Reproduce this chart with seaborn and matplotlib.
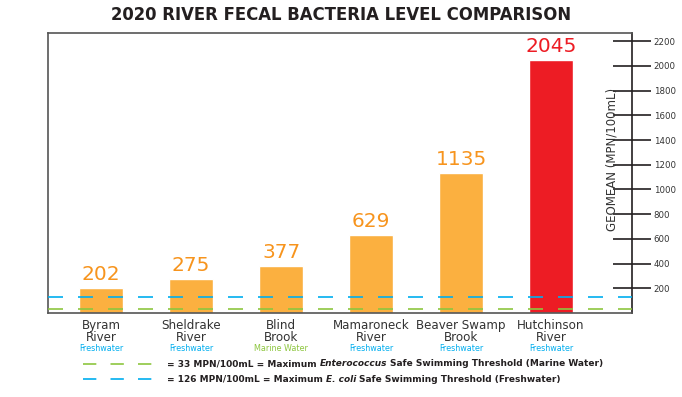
import matplotlib
matplotlib.use("Agg")
import matplotlib.pyplot as plt
import seaborn as sns
from matplotlib.lines import Line2D

# Data
rivers = ["Byram\nRiver", "Sheldrake\nRiver", "Blind\nBrook", "Mamaroneck\nRiver",
          "Beaver Swamp\nBrook", "Hutchinson\nRiver"]
geomean = [202, 275, 377, 629, 1135, 2045]
water_type = ["Freshwater", "Freshwater", "Marine Water", "Freshwater", "Freshwater", "Freshwater"]
marine_limit = 33    # Enterococcus, marine water
fresh_limit = 126    # E. coli, freshwater
y_ticks = [200, 400, 600, 800, 1000, 1200, 1400, 1600, 1800, 2000, 2200]

ORANGE = "#FBB040"
ORANGE_TXT = "#F7941D"
RED = "#ED1C24"
BLUE = "#00AEEF"
GREEN = "#8DC63F"
DARK = "#231F20"

sns.set_theme(style="white")
plt.rcParams["font.family"] = ["DejaVu Sans"]

bar_colors = [RED if v == max(geomean) else ORANGE for v in geomean]
type_colors = {"Freshwater": BLUE, "Marine Water": GREEN}

fig = plt.figure(figsize=(6.82, 3.97), dpi=100)
ax = fig.add_axes([0.0704, 0.2116, 0.8563, 0.7053])

sns.barplot(x=rivers, y=geomean, hue=rivers, palette=bar_colors, legend=False,
            width=0.49, saturation=1, ax=ax)

ax.set_xlim(-0.59, 5.9)
ax.set_ylim(0, 2266)

# threshold lines drawn over the bars
ax.axhline(fresh_limit, color=BLUE, lw=1.2, dashes=(9, 9), zorder=5)
ax.axhline(marine_limit, color=GREEN, lw=1.2, dashes=(9, 9), zorder=5)

# value labels
for i, v in enumerate(geomean):
    ax.annotate(str(v), xy=(i, v), xytext=(0, 4), textcoords="offset pixels",
                ha="center", va="bottom", fontsize=14.5,
                color=RED if v == max(geomean) else ORANGE_TXT)

# water type under each river name
for i, w in enumerate(water_type):
    ax.annotate(w, xy=(i, 0), xycoords=("data", "axes fraction"),
                xytext=(0, -36), textcoords="offset pixels",
                ha="center", va="center", fontsize=5.8, color=type_colors[w])

ax.tick_params(axis="x", length=0, pad=4, labelsize=8.6, colors="#333333")
for lab in ax.get_xticklabels():
    lab.set_linespacing(0.9)

ax.yaxis.tick_right()
ax.set_yticks(y_ticks)
ax.tick_params(axis="y", direction="inout", length=27, width=1.2, color=DARK,
               labelsize=6.2, pad=2, labelcolor="#333333")

ax.text(0.965, 0.55, "GEOMEAN (MPN/100mL)", transform=ax.transAxes, rotation=90,
        ha="center", va="center", fontsize=8.5, color="#333333")

for side in ["left", "top", "bottom"]:
    ax.spines[side].set_color("#555555")
    ax.spines[side].set_linewidth(1.2)
ax.spines["right"].set_color(DARK)
ax.spines["right"].set_linewidth(1.2)

fig.suptitle("2020 RIVER FECAL BACTERIA LEVEL COMPARISON", x=0.5, y=0.985,
             fontsize=11.9, fontweight="bold", color=DARK)

# legend below the chart
legend_rows = [
    (GREEN, 364, "= 33 MPN/100mL = Maximum", "Enterococcus",
     "Safe Swimming Threshold (Marine Water)"),
    (BLUE, 379, "= 126 MPN/100mL = Maximum", "E. coli",
     "Safe Swimming Threshold (Freshwater)"),
]
W, H = 682, 397
for color, ypx, pre, ital, post in legend_rows:
    yf = 1 - ypx / H
    fig.add_artist(Line2D([83 / W, 161 / W], [yf, yf], color=color, lw=1.2,
                          dashes=(8, 8.5), transform=fig.transFigure))
    t1 = fig.text(167 / W, yf, pre, fontsize=6.5, fontweight="bold",
                  color=DARK, va="center")
    t2 = ax.annotate(ital, xy=(1, 0), xycoords=t1, xytext=(3, 0),
                     textcoords="offset pixels", va="bottom", fontsize=6.5,
                     fontweight="bold", style="italic", color=DARK,
                     annotation_clip=False)
    ax.annotate(post, xy=(1, 0), xycoords=t2, xytext=(3, 0),
                textcoords="offset pixels", va="bottom", fontsize=6.5,
                fontweight="bold", color=DARK, annotation_clip=False)

fig.savefig("out.png", dpi=100)
